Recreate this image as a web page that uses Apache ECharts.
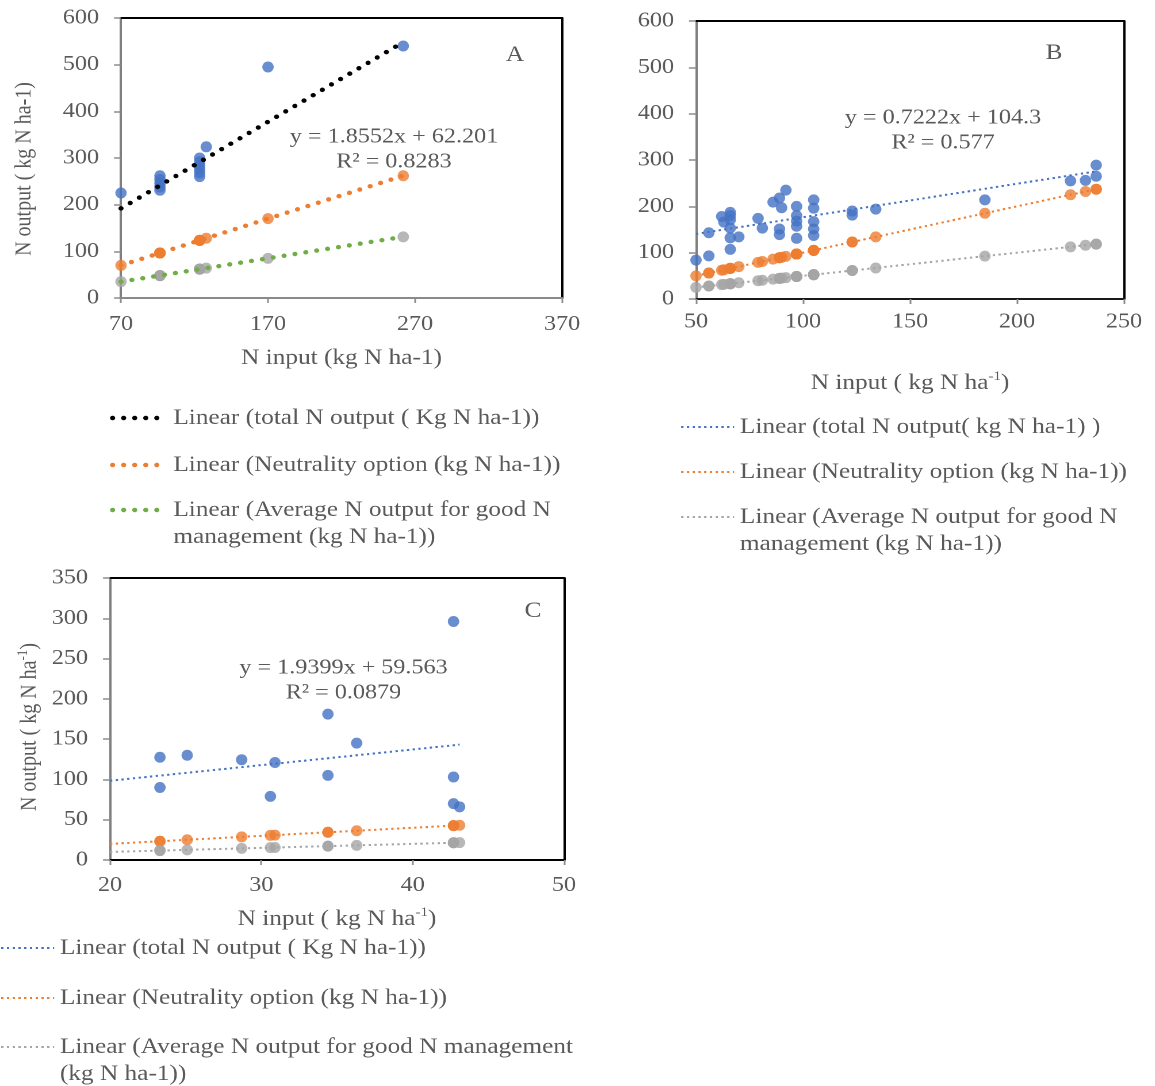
<!DOCTYPE html>
<html>
<head>
<meta charset="utf-8">
<title>N output vs N input</title>
<script src="https://cdn.jsdelivr.net/npm/echarts@6/dist/echarts.min.js"></script>
<style>
  html, body { margin: 0; padding: 0; background: #fff; width: 1155px; height: 1086px; overflow: hidden; }
  .panel { position: absolute; transform-origin: 0 0; transform: scaleX(1.15); }
</style>
</head>
<body>
<div id="panelA" class="panel" style="left:0;top:0;width:522px;height:560px"></div>
<div id="panelB" class="panel" style="left:600px;top:0;width:483px;height:560px"></div>
<div id="panelC" class="panel" style="left:0;top:560px;width:522px;height:526px"></div>
<script>
// ---------------- Panel A ----------------
const inputA   = [70, 96.5, 96.5, 96.5, 96.5, 96.5, 123.5, 123.5, 123.5, 123.5, 123.5, 123.5, 128, 170, 262];
const totalA   = [225, 262, 254, 246, 238, 231, 300, 292, 284, 276, 268, 260, 324, 495, 540];
const neutralA = [70, 96.5, 96.5, 96.5, 96.5, 96.5, 123.5, 123.5, 123.5, 123.5, 123.5, 123.5, 128, 170, 262];
const goodA    = [35, 48, 48, 48, 48, 48, 62, 62, 62, 62, 62, 62, 64, 85, 131];
const xTicksA  = [70, 170, 270, 370];
const yTicksA  = [0, 100, 200, 300, 400, 500, 600];
const fitTotalA = [1.8552, 62.201];
const r2A = 0.8283;
const spanA = [70, 262];

// ---------------- Panel B ----------------
const inputB   = [50, 56, 56, 62, 63, 66, 66, 66, 66, 66, 66, 70, 79, 81, 86, 89, 90, 89, 89, 92,
                  97, 97, 97, 97, 97, 105, 105, 105, 105, 105, 123, 123, 134, 185, 225, 232, 237, 237];
const totalB   = [84, 93, 143, 178, 166, 187, 180, 171, 153, 132, 107, 134, 174, 153, 209, 218, 197, 151, 139, 235,
                  200, 180, 168, 157, 131, 214, 196, 167, 151, 137, 190, 181, 194, 214, 255, 256, 289, 265];
const neutralB = [50, 56, 56, 62, 63, 66, 66, 66, 66, 66, 66, 70, 79, 81, 86, 89, 90, 89, 89, 92,
                  97, 97, 97, 97, 97, 105, 105, 105, 105, 105, 123, 123, 134, 185, 225, 232, 237, 237];
const goodB    = [25, 28, 28, 31, 31.5, 33, 33, 33, 33, 33, 33, 35, 39.5, 40.5, 43, 44.5, 45, 44.5, 44.5, 46,
                  48.5, 48.5, 48.5, 48.5, 48.5, 52.5, 52.5, 52.5, 52.5, 52.5, 61.5, 61.5, 67, 92.5, 112.5, 116, 118.5, 118.5];
const xTicksB  = [50, 100, 150, 200, 250];
const yTicksB  = [0, 100, 200, 300, 400, 500, 600];
const fitTotalB = [0.7222, 104.3];
const r2B = 0.577;
const spanB = [50, 237];

// ---------------- Panel C ----------------
const inputC   = [23.3, 23.3, 25.1, 28.7, 30.9, 30.6, 34.4, 34.4, 36.3, 42.7, 42.7, 42.7, 43.1];
const totalC   = [127.5, 90, 130, 124.5, 121, 79, 181, 105, 145, 296, 103, 70, 66];
const neutralC = [23.3, 23.3, 25.1, 28.7, 30.9, 30.6, 34.4, 34.4, 36.3, 42.7, 42.7, 42.7, 43.1];
const goodC    = [11.7, 11.7, 12.6, 14.4, 15.5, 15.3, 17.2, 17.2, 18.2, 21.4, 21.4, 21.4, 21.6];
const xTicksC  = [20, 30, 40, 50];
const yTicksC  = [0, 50, 100, 150, 200, 250, 300, 350];
const fitTotalC = [1.9399, 59.563];
const r2C = 0.0879;
const spanC = [20, 43.1];

// ---------------- shared helpers ----------------
const S = 1.15;                 // every panel is drawn slightly widened
const sx = v => v / S;          // page px -> panel px (horizontal only)
const FONT = "'Liberation Serif', 'Times New Roman', serif";
const TXT = '#595959';
const BLUE = '#4472C4', ORANGE = '#ED7D31', GREY = '#A5A5A5', GREEN = '#70AD47';

function pairs(xs, ys) { return xs.map((x, i) => [x, ys[i]]); }
function leastSquares(xs, ys) {
  const n = xs.length;
  const mx = xs.reduce((a, b) => a + b, 0) / n;
  const my = ys.reduce((a, b) => a + b, 0) / n;
  let sxy = 0, sxx = 0;
  for (let i = 0; i < n; i++) { sxy += (xs[i] - mx) * (ys[i] - my); sxx += (xs[i] - mx) ** 2; }
  const slope = sxy / sxx;
  return [slope, my - slope * mx];
}
function trend(fit, span) { return span.map(x => [x, fit[0] * x + fit[1]]); }
function ticksAxis(ticks) {
  return { type: 'value', min: ticks[0], max: ticks[ticks.length - 1], interval: ticks[1] - ticks[0] };
}

function buildOption(p) {
  const labelStyle = { color: TXT, fontFamily: FONT, fontSize: 21 };
  const supRich = { sup: { fontSize: 13, fontFamily: FONT, color: TXT, verticalAlign: 'top', lineHeight: 14 } };
  const scatter = (name, xs, ys, color) => ({
    name, type: 'scatter', data: pairs(xs, ys), symbol: 'circle', symbolSize: [10, 11],
    itemStyle: { color }, z: 2
  });
  const line = (name, data, color, ls) => ({
    name, type: 'line', data, symbol: 'none', silent: true, z: 3,
    lineStyle: Object.assign({ color }, ls)
  });
  const legendItem = (name, top, twoLines) => ({
    data: [name], orient: 'vertical', left: sx(p.legendLeft), top, padding: 0,
    itemWidth: sx(p.legendIconW), itemHeight: 10, itemGap: 0, selectedMode: false,
    formatter: twoLines ? (n => '\n' + n) : '{name}',
    textStyle: { color: TXT, fontFamily: FONT, fontSize: 22, lineHeight: 27 },
    itemStyle: { opacity: 0 },
    lineStyle: { width: p.legendLineW }
  });
  return {
    animation: false,
    grid: { left: sx(p.grid[0]), top: p.grid[1], width: sx(p.grid[2]), height: p.grid[3],
            containLabel: false, outerBoundsMode: 'none' },
    xAxis: [
      Object.assign(ticksAxis(p.xTicks), {
        position: 'bottom',
        axisLine: { show: true, onZero: false, lineStyle: { color: p.xLineColor, width: 2 } },
        axisTick: { show: true, length: 5, lineStyle: { color: '#8c8c8c', width: 1.5 } },
        axisLabel: Object.assign({ margin: p.xLabelMargin, showMinLabel: true, showMaxLabel: true }, labelStyle),
        splitLine: { show: false },
        name: p.xName, nameLocation: 'middle', nameGap: p.xNameGap, nameMoveOverlap: false,
        nameTextStyle: { color: TXT, fontFamily: FONT, fontSize: 22, lineHeight: 26, rich: supRich }
      }),
      Object.assign(ticksAxis(p.xTicks), {
        position: 'top',
        axisLine: { show: true, onZero: false, lineStyle: { color: '#000', width: 2 } },
        axisTick: { show: false }, axisLabel: { show: false }, splitLine: { show: false }
      })
    ],
    yAxis: [
      Object.assign(ticksAxis(p.yTicks), {
        position: 'left',
        axisLine: { show: true, onZero: false, lineStyle: { color: '#7f7f7f', width: 2 } },
        axisTick: { show: true, length: sx(7), lineStyle: { color: '#8c8c8c', width: 1.5 } },
        axisLabel: Object.assign({ margin: sx(22), showMinLabel: true, showMaxLabel: true }, labelStyle),
        splitLine: { show: false },
        name: p.yName || '', nameLocation: 'middle', nameGap: p.yNameGap || 0, nameMoveOverlap: false,
        nameTextStyle: { color: TXT, fontFamily: FONT, fontSize: 20, lineHeight: 24,
                         padding: [0, p.yNameShift || 0, 0, 0], rich: supRich }
      }),
      Object.assign(ticksAxis(p.yTicks), {
        position: 'right',
        axisLine: { show: true, onZero: false, lineStyle: { color: '#000', width: 2 } },
        axisTick: { show: false }, axisLabel: { show: false }, splitLine: { show: false }
      })
    ],
    legend: [
      legendItem(p.names[0], p.legendTops[0], false),
      legendItem(p.names[1], p.legendTops[1], false),
      legendItem(p.names[2], p.legendTops[2], true)
    ],
    graphic: [
      { type: 'text', x: sx(p.eqPos[0]), y: p.eqPos[1], silent: true,
        style: { text: 'y = ' + p.fit[0] + 'x + ' + p.fit[1] + '\nR\u00B2 = ' + p.r2,
                 fill: TXT, fontFamily: FONT, fontSize: 21, lineHeight: 25,
                 align: 'center', verticalAlign: 'middle' } },
      { type: 'text', x: sx(p.tagPos[0]), y: p.tagPos[1], silent: true,
        style: { text: p.tag, fill: TXT, fontFamily: FONT, fontSize: 22,
                 align: 'center', verticalAlign: 'middle' } }
    ],
    series: [
      scatter('total N output', p.input, p.total, BLUE),
      scatter('Neutrality option', p.input, p.neutral, ORANGE),
      scatter('Average N output for good N management', p.input, p.good, GREY),
      line(p.names[0], trend(p.fit, p.span), p.lineColors[0], p.lineStyle),
      line(p.names[1], trend(leastSquares(p.input, p.neutral), p.span), p.lineColors[1], p.lineStyle),
      line(p.names[2], trend(leastSquares(p.input, p.good), p.span), p.lineColors[2], p.lineStyle)
    ]
  };
}

const roundDots = { width: 4.5, type: [0.01, 9.6], cap: 'round' };
const fineDots  = { width: 2, type: [2, 3], cap: 'butt' };

const panels = [
  { el: 'panelA', tag: 'A', tagPos: [515, 55],
    input: inputA, total: totalA, neutral: neutralA, good: goodA,
    xTicks: xTicksA, yTicks: yTicksA, fit: fitTotalA, r2: r2A, span: spanA,
    grid: [121, 18, 441, 280], xLineColor: '#8a8a8a', xLabelMargin: 16,
    xName: 'N input (kg N ha-1)', xNameGap: 47,
    yName: 'N output ( kg N ha-1)', yNameGap: 72, yNameShift: 22,
    eqPos: [394, 149.5],
    names: ['Linear (total N output ( Kg N ha-1))',
            'Linear (Neutrality option (kg N ha-1))',
            'Linear (Average N output for good N\nmanagement (kg N ha-1))'],
    lineColors: ['#000000', ORANGE, GREEN], lineStyle: roundDots,
    legendLeft: 110, legendIconW: 55, legendLineW: 4.5, legendTops: [404.5, 451.5, 469.5] },
  { el: 'panelB', tag: 'B', tagPos: [454, 53],
    input: inputB, total: totalB, neutral: neutralB, good: goodB,
    xTicks: xTicksB, yTicks: yTicksB, fit: fitTotalB, r2: r2B, span: spanB,
    grid: [96, 21, 428, 278], xLineColor: '#1a1a1a', xLabelMargin: 12.5,
    xName: 'N input ( kg N ha{sup|-1})', xNameGap: 71,
    eqPos: [343, 130.5],
    names: ['Linear (total N output( kg N ha-1) )',
            'Linear (Neutrality option (kg N ha-1))',
            'Linear (Average N output for good N\nmanagement (kg N ha-1))'],
    lineColors: [BLUE, ORANGE, GREY], lineStyle: fineDots,
    legendLeft: 80, legendIconW: 53, legendLineW: 2, legendTops: [413.5, 458.5, 476.5] },
  { el: 'panelC', tag: 'C', tagPos: [533, 51],
    input: inputC, total: totalC, neutral: neutralC, good: goodC,
    xTicks: xTicksC, yTicks: yTicksC, fit: fitTotalC, r2: r2C, span: spanC,
    grid: [110, 18, 454, 282], xLineColor: '#000000', xLabelMargin: 15,
    xName: 'N input ( kg N ha{sup|-1})', xNameGap: 46,
    yName: 'N output ( kg N ha{sup|-1})', yNameGap: 58, yNameShift: 16,
    eqPos: [343.5, 120.5],
    names: ['Linear (total N output ( Kg N ha-1))',
            'Linear (Neutrality option (kg N ha-1))',
            'Linear (Average N output for good N management\n(kg N ha-1))'],
    lineColors: [BLUE, ORANGE, GREY], lineStyle: fineDots,
    legendLeft: 0, legendIconW: 53, legendLineW: 2, legendTops: [374.5, 424.5, 446.5] }
];

panels.forEach(p => {
  const chart = echarts.init(document.getElementById(p.el), null, { renderer: 'canvas', devicePixelRatio: 2 });
  chart.setOption(buildOption(p));
});
</script>
</body>
</html>
